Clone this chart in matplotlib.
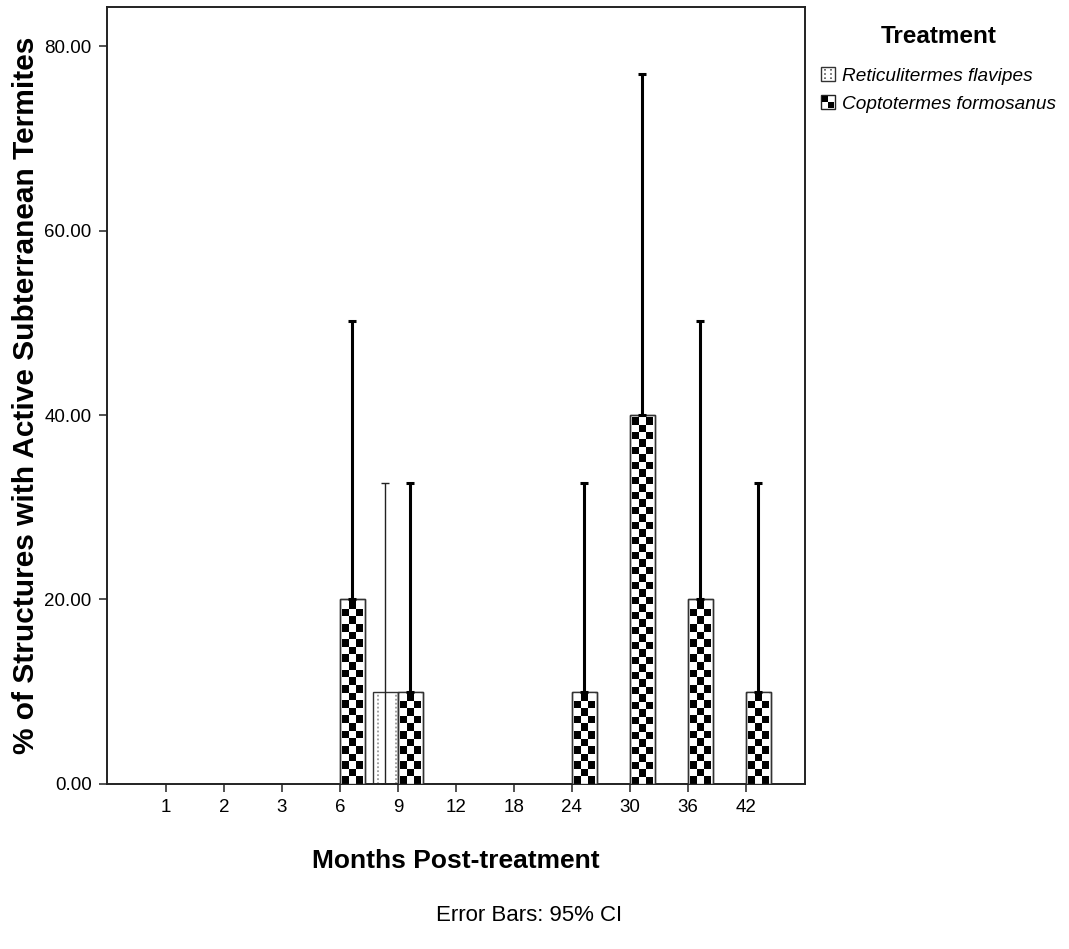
import numpy as np
import matplotlib.pyplot as plt
from matplotlib.patches import Rectangle, Patch
from matplotlib.lines import Line2D
from matplotlib.legend_handler import HandlerBase

### Data
months = ['1', '2', '3', '6', '9', '12', '18', '24', '30', '36', '42']
reticulitermes = [0, 0, 0, 0, 10, 0, 0, 0, 0, 0, 0]
reticulitermes_hi = [0, 0, 0, 0, 32.6, 0, 0, 0, 0, 0, 0]
coptotermes = [0, 0, 0, 20, 10, 0, 0, 10, 40, 20, 10]
coptotermes_hi = [0, 0, 0, 50.2, 32.6, 0, 0, 32.6, 77.0, 50.2, 32.6]
series_names = ['Reticulitermes flavipes', 'Coptotermes formosanus']

plt.rcParams['font.family'] = ['Liberation Sans', 'DejaVu Sans']

fig = plt.figure(figsize=(10.69, 9.49), dpi=100)
ax = fig.add_axes([0.100, 0.174, 0.653, 0.819])

x = np.arange(len(months))
w = 0.43
ax.set_xlim(-1.02, len(months) - 1 + 1.02)
ax.set_ylim(0, 84.3)

# pixel size of one data unit, used for the checker cells
px_x = ax.transData.transform((1, 0))[0] - ax.transData.transform((0, 0))[0]
px_y = ax.transData.transform((0, 1))[1] - ax.transData.transform((0, 0))[1]
cell_h = 7.5 / px_y
inset_x = 2.0 / px_x
inset_y = 2.0 / px_y

# Reticulitermes bars (white with two dotted grey lines)
r_bars = ax.bar(x - w / 2, reticulitermes, width=w, facecolor='white',
                edgecolor='#333333', linewidth=1.0, zorder=2)
for b in r_bars:
    h = b.get_height()
    if h <= 0:
        continue
    for f in (0.18, 0.92):
        xx = b.get_x() + f * b.get_width()
        ax.add_line(Line2D([xx, xx], [0, h - inset_y], color='#999999', lw=1.3,
                           linestyle=(0, (1, 1.2)), zorder=2.5))

# Coptotermes bars (checkerboard)
c_bars = ax.bar(x + w / 2, coptotermes, width=w, facecolor='white',
                edgecolor='#333333', linewidth=1.0, zorder=3)
for b in c_bars:
    h = b.get_height()
    if h <= 0:
        continue
    x0 = b.get_x() + inset_x
    x1 = b.get_x() + b.get_width() - inset_x
    top = h - inset_y
    ny = max(1, int(round(top / cell_h)))
    pat = np.add.outer(np.arange(ny), np.arange(3)) % 2
    im = ax.imshow(pat, cmap='gray', vmin=0, vmax=1, extent=(x0, x1, 0, top),
                   origin='lower', interpolation='nearest', aspect='auto', zorder=3.5)
    im.set_clip_path(b)
    ax.add_patch(Rectangle((b.get_x(), 0), b.get_width(), h, fill=False,
                           edgecolor='#333333', linewidth=1.0, zorder=4))

# error bars (95% CI, upper part shown)
r = np.array(reticulitermes, dtype=float)
rh = np.array(reticulitermes_hi)
m = r > 0
ax.errorbar(x[m] - w / 2, r[m], yerr=[r[m], rh[m] - r[m]], fmt='none',
            ecolor='#222222', elinewidth=1.0, capsize=3, capthick=1.0, zorder=5)
c = np.array(coptotermes, dtype=float)
ch = np.array(coptotermes_hi)
m = c > 0
ax.errorbar(x[m] + w / 2, c[m], yerr=[np.zeros(m.sum()), ch[m] - c[m]], fmt='none',
            ecolor='black', elinewidth=2.2, capsize=3, capthick=2.2, zorder=5)

ax.set_xticks(x)
ax.set_xticklabels(months)
ax.set_yticks([0, 20, 40, 60, 80])
ax.set_yticklabels(['%.2f' % v for v in [0, 20, 40, 60, 80]])
ax.tick_params(axis='both', direction='out', length=6, width=1.2, labelsize=13.5,
               color='#333333', pad=5)
for s in ax.spines.values():
    s.set_linewidth(1.4)
    s.set_color('#222222')

ax.set_xlabel('Months Post-treatment', fontsize=19, fontweight='bold', labelpad=24)
ax.set_ylabel('% of Structures with Active Subterranean Termites', fontsize=21.5,
              fontweight='bold', labelpad=3)

fig.text(0.495, 0.035, 'Error Bars: 95% CI', ha='center', va='center', fontsize=16)


### Legend
class DotHandler(HandlerBase):
    def create_artists(self, legend, orig_handle, xdescent, ydescent, width, height, fontsize, trans):
        x0, y0 = -xdescent, -ydescent
        s = height
        box = Rectangle((x0, y0), s, s, facecolor='white', edgecolor='#333333', lw=1.0, transform=trans)
        l1 = Line2D([x0 + s * 0.3] * 2, [y0 + 0.15 * s, y0 + 0.85 * s], color='#555555', lw=1.2,
                    linestyle=(0, (1, 1.5)), transform=trans)
        l2 = Line2D([x0 + s * 0.7] * 2, [y0 + 0.15 * s, y0 + 0.85 * s], color='#555555', lw=1.2,
                    linestyle=(0, (1, 1.5)), transform=trans)
        return [box, l1, l2]


class CheckerHandler(HandlerBase):
    def create_artists(self, legend, orig_handle, xdescent, ydescent, width, height, fontsize, trans):
        x0, y0 = -xdescent, -ydescent
        s = height
        arts = [Rectangle((x0, y0), s, s, facecolor='white', edgecolor='#222222', lw=1.0, transform=trans)]
        q = s * 0.42
        pad = s * 0.08
        for (i, j) in [(0, 1), (1, 0)]:
            arts.append(Rectangle((x0 + pad + i * q, y0 + pad + j * q), q, q,
                                  facecolor='black', edgecolor='none', transform=trans))
        return arts


h1 = Patch(label=series_names[0])
h2 = Patch(label=series_names[1])
leg = fig.legend(handles=[h1, h2], labels=series_names, loc='upper left',
                 bbox_to_anchor=(0.752, 0.992), frameon=False, title='Treatment',
                 handler_map={h1: DotHandler(), h2: CheckerHandler()},
                 handlelength=0.75, handleheight=0.75, handletextpad=0.35, labelspacing=0.55,
                 prop={'style': 'italic', 'size': 13.7})
leg.get_title().set_fontweight('bold')
leg.get_title().set_fontsize(17.5)
leg.get_title().set_fontstyle('normal')
leg._legend_box.sep = 14

fig.savefig('out.png', dpi=100)
